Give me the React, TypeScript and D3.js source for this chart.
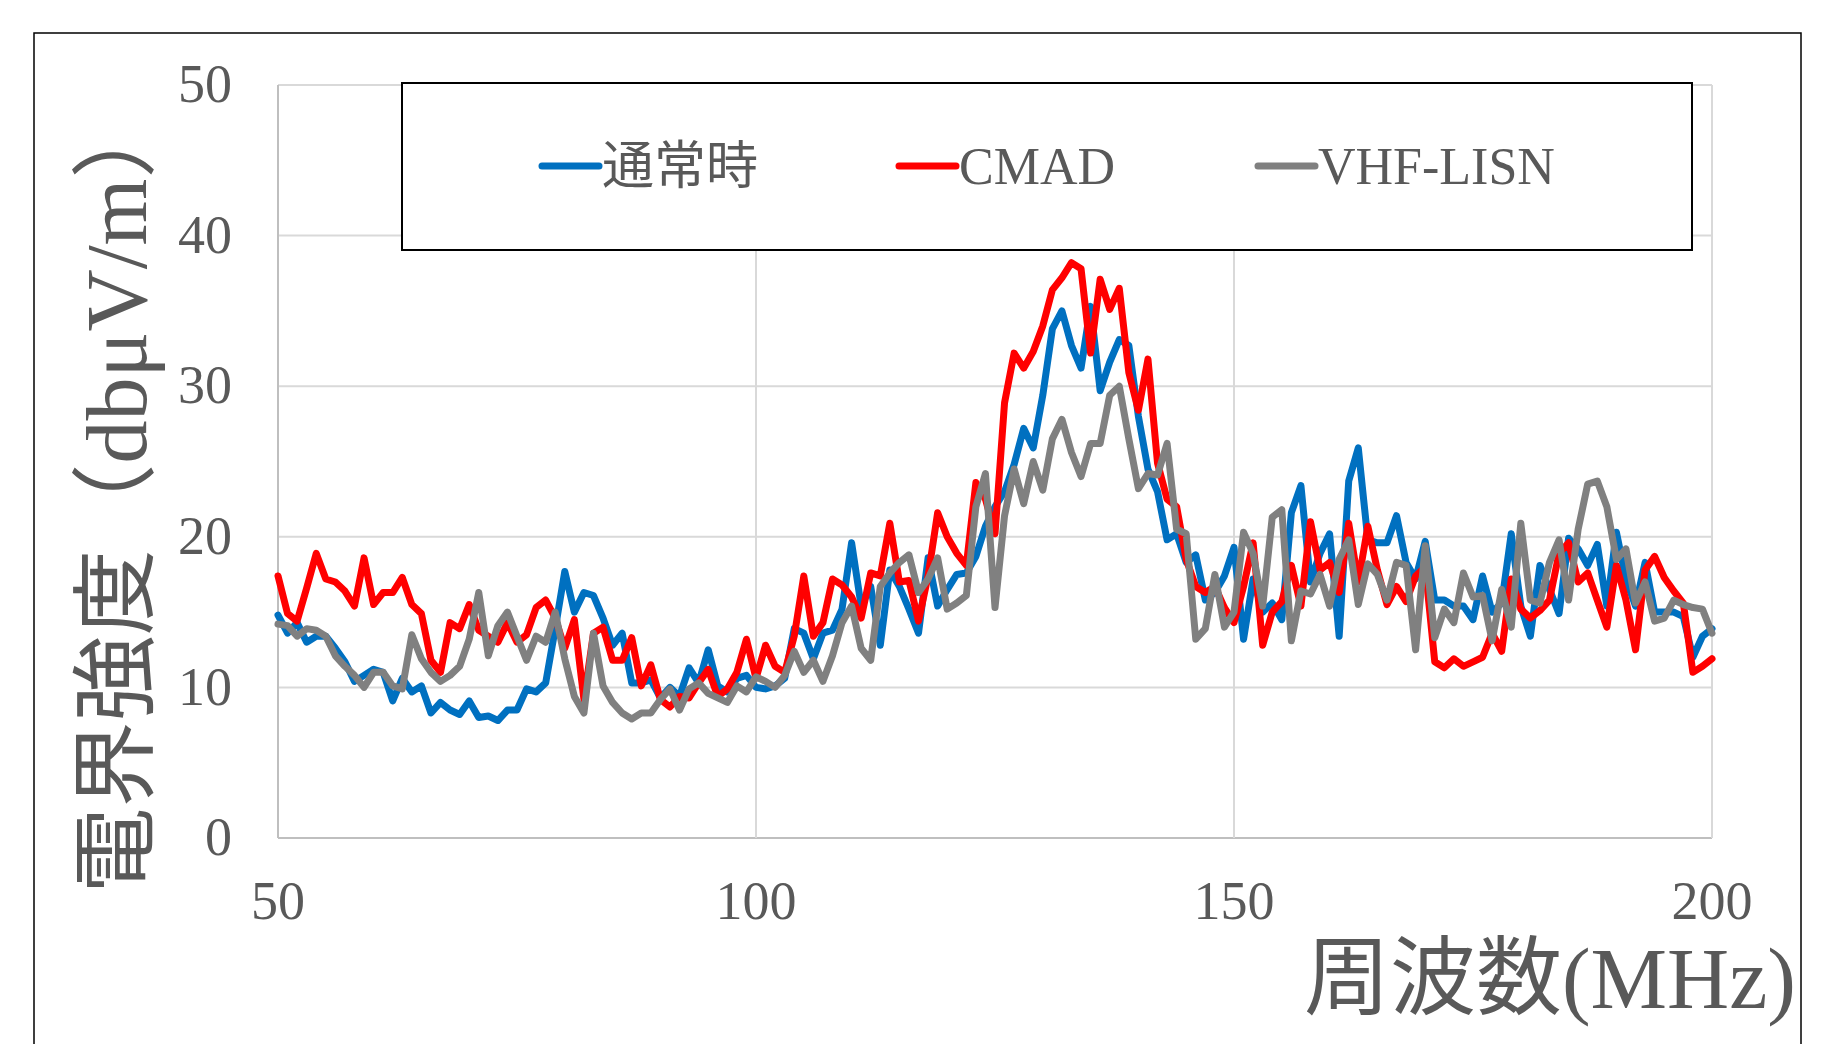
import * as React from 'react';
import * as d3 from 'd3';

// frequency axis (MHz), one sample per MHz
const freqs: number[] = d3.range(50, 201);

// 通常時
const normalValues: number[] = [
  14.8, 13.6, 14.3, 13.0, 13.4, 13.4, 12.6, 11.7, 10.4, 10.8,
  11.2, 11.0, 9.1, 10.6, 9.7, 10.1, 8.3, 9.0, 8.5, 8.2,
  9.1, 8.0, 8.1, 7.8, 8.5, 8.5, 9.9, 9.7, 10.3, 13.9,
  17.7, 15.0, 16.3, 16.1, 14.6, 12.8, 13.6, 10.3, 10.3, 10.5,
  9.3, 10.0, 9.4, 11.3, 10.3, 12.5, 10.1, 9.7, 10.6, 10.8,
  10.0, 9.9, 10.1, 10.6, 13.9, 13.6, 11.9, 13.6, 13.8, 15.2,
  19.6, 15.4, 16.7, 12.8, 17.8, 16.7, 15.2, 13.6, 18.6, 15.4,
  16.5, 17.5, 17.6, 18.7, 20.7, 22.0, 23.0, 24.8, 27.2, 25.9,
  29.4, 33.8, 35.0, 32.7, 31.2, 35.3, 29.7, 31.6, 33.1, 32.7,
  28.0, 24.5, 23.0, 19.8, 20.2, 18.3, 18.8, 15.8, 16.3, 17.4,
  19.3, 13.2, 17.2, 15.0, 15.6, 14.5, 21.6, 23.4, 17.0, 18.9,
  20.2, 13.4, 23.7, 25.9, 19.8, 19.6, 19.6, 21.4, 18.3, 17.2,
  19.7, 15.8, 15.8, 15.4, 15.4, 14.5, 17.4, 15.0, 15.6, 20.2,
  15.4, 13.4, 18.1, 16.5, 14.9, 19.9, 19.2, 18.1, 19.5, 15.4,
  20.3, 17.2, 15.4, 18.3, 15.0, 15.0, 15.0, 14.7, 12.0, 13.4,
  13.9,
];

// CMAD
const cmadValues: number[] = [
  17.4, 14.9, 14.4, 16.6, 18.9, 17.2, 17.0, 16.4, 15.4, 18.6,
  15.5, 16.3, 16.3, 17.3, 15.5, 14.9, 11.8, 11.0, 14.3, 13.9,
  15.5, 13.8, 13.4, 13.0, 14.3, 13.0, 13.5, 15.3, 15.8, 14.6,
  12.6, 14.5, 9.2, 13.6, 14.0, 11.8, 11.8, 13.3, 10.1, 11.5,
  9.2, 8.7, 9.4, 9.3, 10.3, 11.2, 9.4, 9.9, 11.0, 13.2,
  10.6, 12.8, 11.4, 11.0, 13.4, 17.4, 13.4, 14.3, 17.2, 16.8,
  16.0, 14.6, 17.6, 17.4, 20.9, 17.0, 17.1, 14.4, 17.4, 21.6,
  20.0, 18.9, 18.1, 23.6, 22.5, 20.2, 28.9, 32.2, 31.2, 32.3,
  34.0, 36.4, 37.2, 38.2, 37.8, 32.2, 37.1, 35.1, 36.5, 30.9,
  28.4, 31.8, 24.9, 22.5, 22.0, 18.5, 16.7, 16.3, 16.7, 15.3,
  14.3, 16.7, 19.6, 12.8, 15.0, 15.7, 18.1, 15.4, 21.0, 17.8,
  18.3, 16.3, 20.9, 17.0, 20.7, 17.8, 15.5, 16.7, 15.7, 17.4,
  18.0, 11.7, 11.3, 11.9, 11.4, 11.7, 12.0, 13.6, 12.4, 17.2,
  15.2, 14.6, 15.1, 15.8, 18.9, 19.6, 17.0, 17.6, 15.8, 14.0,
  18.1, 15.8, 12.5, 17.8, 18.7, 17.3, 16.4, 15.6, 11.0, 11.4,
  11.9,
];

// VHF-LISN
const lisnValues: number[] = [
  14.2, 14.1, 13.4, 13.9, 13.8, 13.4, 12.1, 11.4, 10.8, 10.0,
  11.0, 11.0, 10.1, 9.9, 13.5, 11.9, 11.0, 10.4, 10.8, 11.4,
  13.2, 16.3, 12.1, 14.1, 15.0, 13.4, 11.8, 13.4, 13.0, 15.0,
  11.9, 9.4, 8.3, 13.6, 10.1, 9.0, 8.3, 7.9, 8.3, 8.3,
  9.2, 9.9, 8.5, 9.9, 10.3, 9.6, 9.3, 9.0, 10.1, 9.7,
  10.7, 10.4, 10.0, 10.8, 12.4, 11.0, 11.8, 10.4, 12.1, 14.3,
  15.4, 12.6, 11.8, 16.7, 17.6, 18.3, 18.8, 16.3, 17.2, 18.6,
  15.2, 15.6, 16.1, 22.0, 24.2, 15.3, 21.4, 24.5, 22.2, 25.0,
  23.1, 26.5, 27.8, 25.6, 24.0, 26.2, 26.2, 29.4, 30.0, 26.5,
  23.2, 24.2, 24.1, 26.2, 20.5, 20.2, 13.2, 13.9, 17.5, 14.0,
  15.0, 20.3, 18.9, 15.4, 21.3, 21.8, 13.1, 16.4, 16.2, 17.5,
  15.4, 18.5, 19.8, 15.5, 18.2, 17.5, 15.8, 18.3, 18.1, 12.5,
  19.4, 13.3, 15.2, 14.3, 17.6, 16.0, 16.1, 13.1, 16.5, 14.0,
  20.9, 15.8, 15.6, 18.3, 19.8, 15.8, 20.5, 23.5, 23.7, 22.0,
  18.5, 19.2, 15.6, 17.0, 14.4, 14.6, 15.8, 15.5, 15.3, 15.2,
  13.6,
];

const seriesNames: string[] = ['通常時', 'CMAD', 'VHF-LISN'];
const seriesColors: string[] = ['#0070c0', '#ff0000', '#808080'];

const xTicks: number[] = [50, 100, 150, 200];
const yTicks: number[] = [0, 10, 20, 30, 40, 50];

const W = 1823;
const H = 1044;
const margin = { top: 85, right: 111, bottom: 206, left: 278 };

const serif = '"Liberation Serif", "Times New Roman", "Noto Sans CJK JP", serif';
const textColor = '#595959';

export default function App() {
  const x = d3.scaleLinear().domain([50, 200]).range([margin.left, W - margin.right]);
  const y = d3.scaleLinear().domain([0, 50]).range([H - margin.bottom, margin.top]);

  const line = d3.line<[number, number]>()
    .x((d) => x(d[0]))
    .y((d) => y(d[1]));

  const allSeries = [normalValues, cmadValues, lisnValues];

  // legend entries, positioned along the box
  const legendX = [542, 899, 1258];

  return (
    <svg width={W} height={H} style={{ position: 'absolute', left: 0, top: 0, background: '#fff' }}>
      <rect x={34} y={33} width={1767} height={1100} fill="#fff" stroke="#000" strokeWidth={1.5} />

      {/* grid */}
      {yTicks.map((t) => (
        <line key={'gy' + t} x1={x(50)} x2={x(200)} y1={y(t)} y2={y(t)}
          stroke={t === 0 ? '#bfbfbf' : '#d9d9d9'} strokeWidth={2} />
      ))}
      {xTicks.map((t) => (
        <line key={'gx' + t} x1={x(t)} x2={x(t)} y1={y(0)} y2={y(50)}
          stroke={t === 50 ? '#bfbfbf' : '#d9d9d9'} strokeWidth={2} />
      ))}

      {/* tick labels */}
      {yTicks.map((t) => (
        <text key={'ly' + t} x={x(50) - 46} y={y(t)} dy="0.32em" textAnchor="end"
          fontFamily={serif} fontSize={54} fill={textColor}>{t}</text>
      ))}
      {xTicks.map((t) => (
        <text key={'lx' + t} x={x(t)} y={y(0) + 63} dy="0.34em" textAnchor="middle"
          fontFamily={serif} fontSize={54} fill={textColor}>{t}</text>
      ))}

      {/* series */}
      {allSeries.map((vals, i) => (
        <path key={'s' + i}
          d={line(freqs.map((f, j) => [f, vals[j]] as [number, number])) || ''}
          fill="none" stroke={seriesColors[i]} strokeWidth={7}
          strokeLinejoin="round" strokeLinecap="round" />
      ))}

      {/* legend */}
      <rect x={402} y={83} width={1290} height={167} fill="#fff" stroke="#000" strokeWidth={2} />
      {seriesNames.map((name, i) => (
        <g key={'lg' + i}>
          <line x1={legendX[i]} x2={legendX[i] + 57} y1={166} y2={166}
            stroke={seriesColors[i]} strokeWidth={7} strokeLinecap="round" />
          <text x={legendX[i] + 60} y={166} dy="0.35em" fontFamily={serif} fontSize={52} fill={textColor}>{name}</text>
        </g>
      ))}

      {/* axis titles */}
      <text transform="translate(116,493) rotate(-90)" textAnchor="middle" dy="0.35em"
        fontFamily={serif} fontSize={86} fill={textColor}>電界強度（dbμV/m）</text>
      <text x={1796} y={1008} textAnchor="end" fontFamily={serif} fontSize={86} fill={textColor}>周波数(MHz)</text>
    </svg>
  );
}
